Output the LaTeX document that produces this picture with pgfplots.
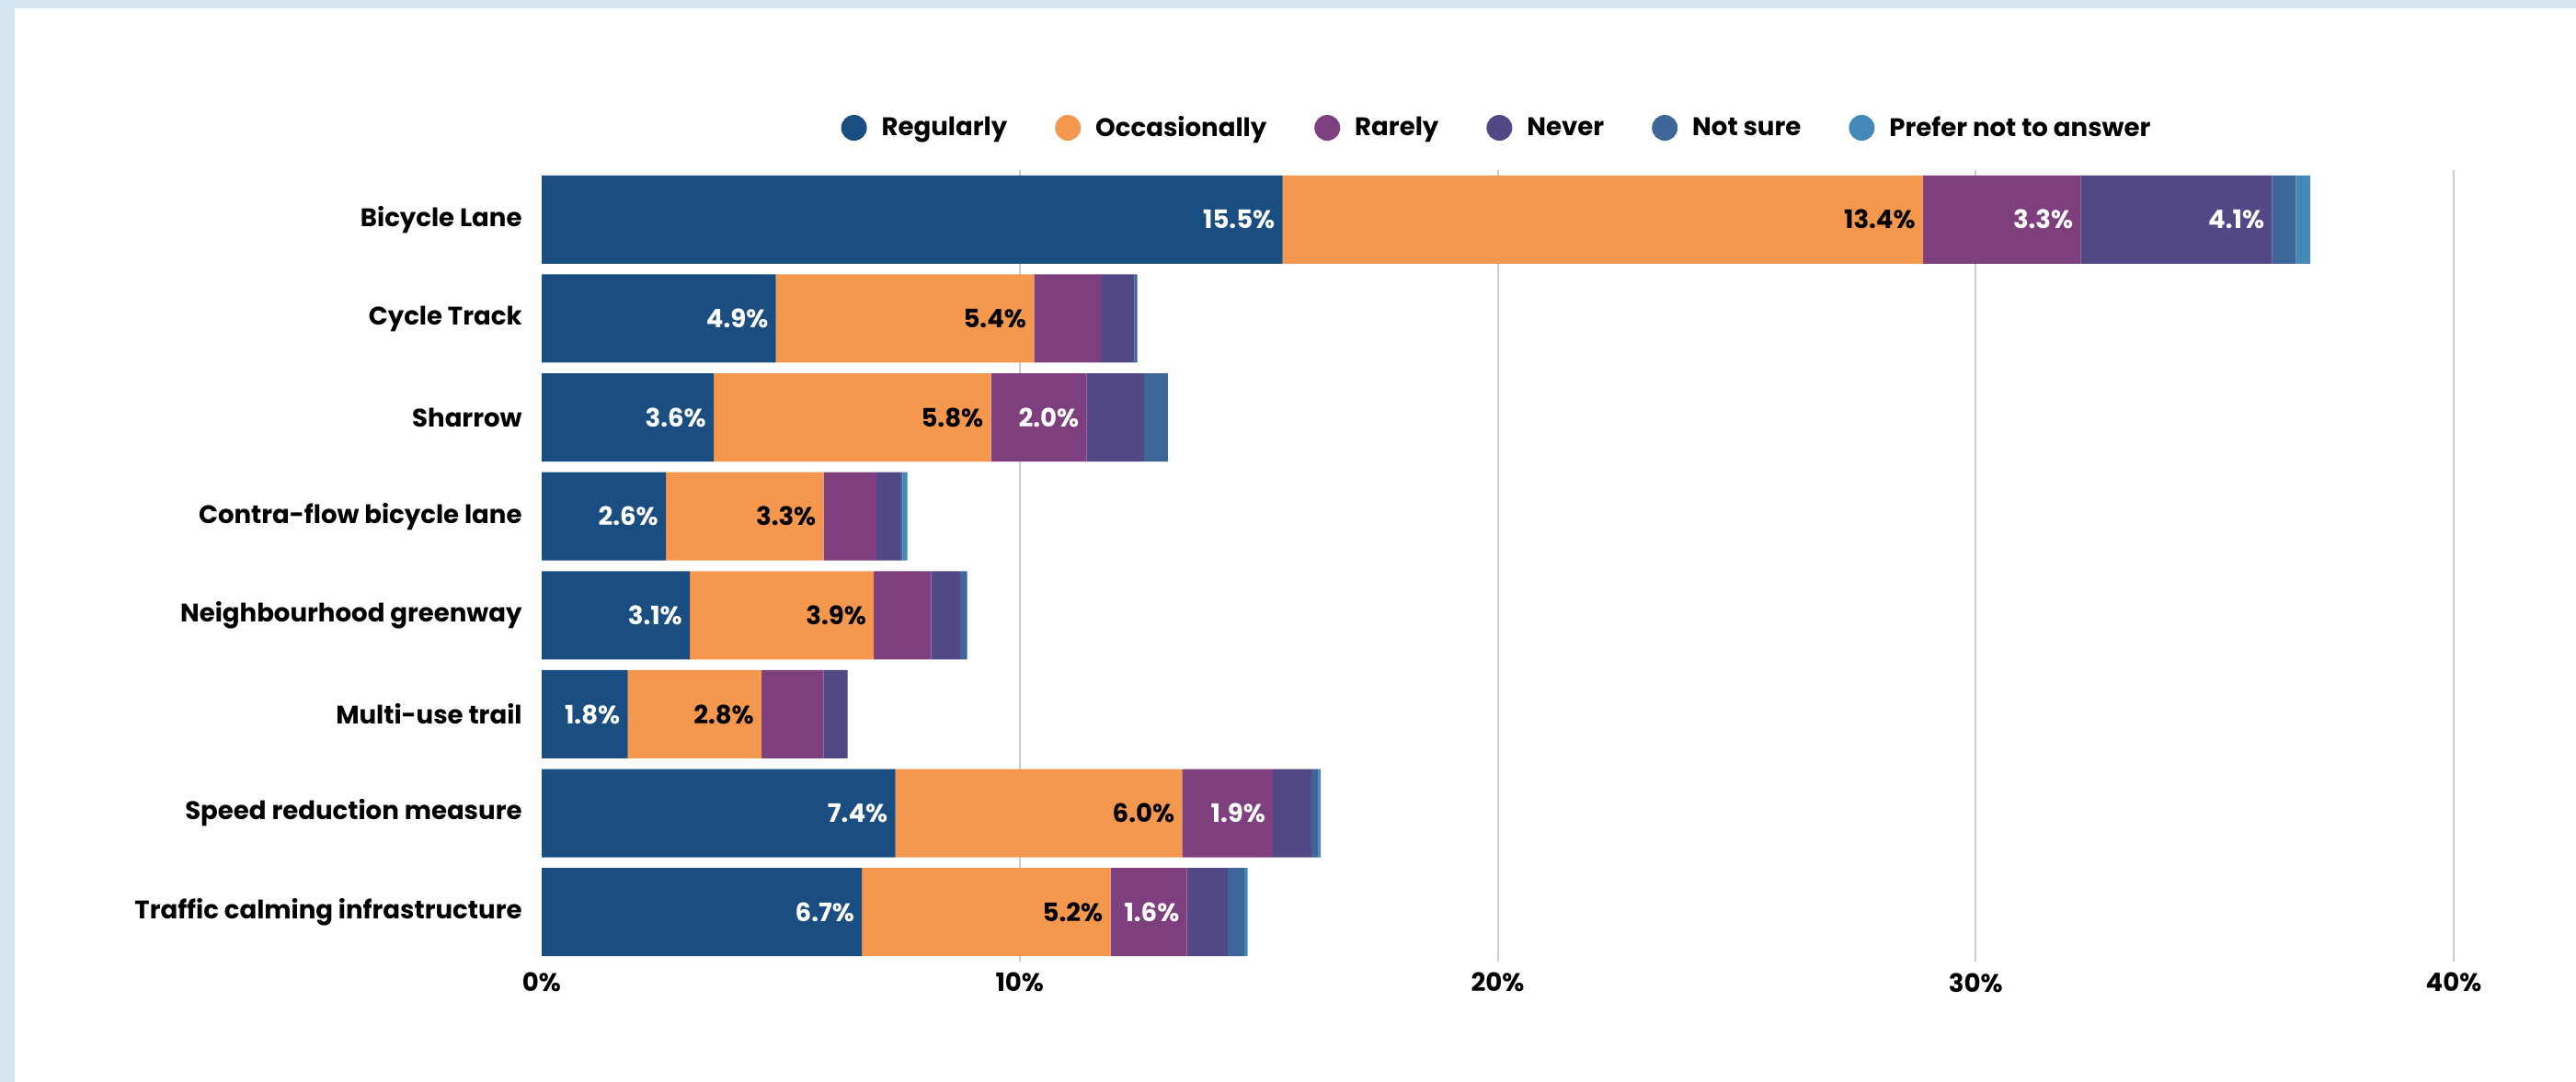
\documentclass[border=0pt]{standalone}
\usepackage{fontspec}
\setmainfont{Poppins}
\usepackage{pgfplots}
\usepackage{pgfplotstable}
\pgfplotsset{compat=1.18}
\definecolor{cReg}{HTML}{1A4D80}
\definecolor{cOcc}{HTML}{F4974F}
\definecolor{cRar}{HTML}{7E3F7E}
\definecolor{cNev}{HTML}{514885}
\definecolor{cNs}{HTML}{3E6699}
\definecolor{cPna}{HTML}{4489B8}
\definecolor{band}{HTML}{D4E4F1}
\definecolor{gridc}{HTML}{CCCCCC}
\newcommand\lf{\bfseries\fontsize{13.8}{16.5}\selectfont}
% segment values per category (percent)
\pgfplotstableread{
idx reg occ rar nev ns pna
0 15.5 13.4 3.3 4.0 0.5 0.3
1 4.9 5.4 1.4 0.7 0.06 0
2 3.6 5.8 2.0 1.2 0.5 0
3 2.6 3.3 1.1 0.5 0.05 0.1
4 3.1 3.85 1.2 0.6 0.15 0
5 1.8 2.8 1.3 0.5 0 0
6 7.4 6.0 1.9 0.8 0.15 0.05
7 6.7 5.2 1.6 0.85 0.35 0.07
}\datatable
% value labels: position (end of segment), row, printed value
\pgfplotstableread{
x y v
15.5 0 15.5
32.2 0 3.3
36.2 0 4.1
4.9 1 4.9
3.6 2 3.6
11.4 2 2.0
2.6 3 2.6
3.1 4 3.1
1.8 5 1.8
7.4 6 7.4
15.3 6 1.9
6.7 7 6.7
13.5 7 1.6
}\whitelabels
\pgfplotstableread{
x y v
28.9 0 13.4
10.3 1 5.4
9.4 2 5.8
5.9 3 3.3
6.95 4 3.9
4.6 5 2.8
13.4 6 6.0
11.9 7 5.2
}\blacklabels
\pgfplotsset{
  common/.style={
    at={(294.5pt,65.5pt)}, anchor=south west,
    scale only axis, width=1039.5pt, height=430.5pt,
    xmin=0, xmax=40, ymin=-0.5, ymax=7.5, y dir=reverse,
  }
}
\begin{document}
\begin{tikzpicture}
\useasboundingbox (0,0) rectangle (1400.5pt,588.5pt);
\fill[band] (0,0) rectangle (1400.5pt,588.5pt);
\fill[white] (8pt,0) rectangle (1400.5pt,584pt);
\begin{axis}[
  common,
  xbar stacked, bar width=48pt,
  axis line style={draw=none}, major tick length=0pt,
  xtick={10,20,30,40}, xticklabels={10\%,20\%,30\%,40\%},
  extra x ticks={0}, extra x tick labels={0\%}, extra x tick style={grid=none},
  xmajorgrids, grid style={gridc, line width=1pt},
  ytick={0,1,2,3,4,5,6,7},
  yticklabels={Bicycle Lane,Cycle Track,Sharrow,Contra-flow bicycle lane,Neighbourhood greenway,Multi-use trail,Speed reduction measure,Traffic calming infrastructure},
  yticklabel style={font=\lf, inner sep=0pt, xshift=-10.5pt},
  xticklabel style={font=\lf, inner sep=0pt, yshift=-6pt},
  legend columns=-1,
  legend style={at={(0.5,1.0534)}, anchor=center, draw=none, fill=none, font=\lf,
    /tikz/every odd column/.append style={column sep=6pt},
    /tikz/every even column/.append style={column sep=24pt}},
  legend image code/.code={\fill[#1] (0pt,0pt) circle (7pt);},
]
\addplot[fill=cReg, draw=none] table[x=reg,y=idx]{\datatable};
\addplot[fill=cOcc, draw=none] table[x=occ,y=idx]{\datatable};
\addplot[fill=cRar, draw=none] table[x=rar,y=idx]{\datatable};
\addplot[fill=cNev, draw=none] table[x=nev,y=idx]{\datatable};
\addplot[fill=cNs, draw=none] table[x=ns,y=idx]{\datatable};
\addplot[fill=cPna, draw=none] table[x=pna,y=idx]{\datatable};
\legend{Regularly,Occasionally,Rarely,Never,Not sure,Prefer not to answer}
\end{axis}
\begin{axis}[
  common, hide axis, clip=false,
  point meta=explicit,
  nodes near coords={\pgfmathprintnumber[fixed,fixed zerofill,precision=1,assume math mode=true]{\pgfplotspointmeta}\%},
  every node near coord/.append style={anchor=east, xshift=-4pt, font=\lf, inner sep=0pt},
]
\addplot[draw=none, mark=none, only marks, every node near coord/.append style={text=white}] table[x=x,y=y,meta=v]{\whitelabels};
\addplot[draw=none, mark=none, only marks, every node near coord/.append style={text=black}] table[x=x,y=y,meta=v]{\blacklabels};
\end{axis}
\end{tikzpicture}
\end{document}
